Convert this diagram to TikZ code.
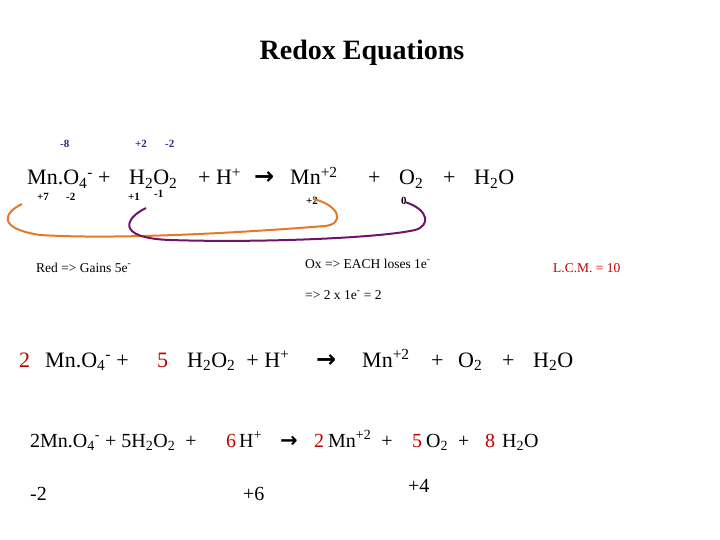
\documentclass[tikz,border=0pt]{standalone}
\usepackage{fontspec}
\setmainfont{Liberation Serif}
\newfontfamily\arrowfont{DejaVu Sans}
\begin{document}
\begin{tikzpicture}[x=1pt,y=-1pt,
  big/.style={anchor=base west,inner sep=0pt,font=\fontsize{22}{24}\selectfont},
  mid/.style={anchor=base west,inner sep=0pt,font=\fontsize{20}{22}\selectfont},
  arr/.style={anchor=base west,inner sep=0pt,font=\fontsize{24}{26}\selectfont\arrowfont\bfseries},
  ox/.style={anchor=base west,inner sep=0pt,font=\fontsize{11}{12}\selectfont\bfseries},
  note/.style={anchor=base west,inner sep=0pt,font=\fontsize{13.5}{14}\selectfont},
  rd/.style={text={rgb,255:red,192;green,0;blue,0}}]
\useasboundingbox (0,0) rectangle (720,540);
\definecolor{oxblue}{RGB}{40,40,120}
\definecolor{corange}{RGB}{230,120,40}
\definecolor{cpurple}{RGB}{110,20,110}
\node[anchor=base,inner sep=0pt,font=\fontsize{28}{30}\selectfont\bfseries] (title) at (362,60) {Redox Equations};
% oxidation numbers above
\node[ox,text=oxblue] (a1) at (60,148) {-8};
\node[ox,text=oxblue] (a2) at (135,148) {+2};
\node[ox,text=oxblue] (a3) at (165,148) {-2};
% line 1
\node[big] (l1a) at (27,185) {Mn.O\textsubscript{4}\textsuperscript{-}};
\node[big] (l1b) at (98,185) {+};
\node[big] (l1c) at (129,185) {H\textsubscript{2}O\textsubscript{2}};
\node[big] (l1d) at (198,185) {+ H\textsuperscript{+}};
\node[arr] (l1e) at (254,185) {→};
\node[big] (l1f) at (290,185) {Mn\textsuperscript{+2}};
\node[big] (l1g) at (368,185) {+};
\node[big] (l1h) at (399,185) {O\textsubscript{2}};
\node[big] (l1i) at (443,185) {+};
\node[big] (l1j) at (474,185) {H\textsubscript{2}O};
% oxidation numbers below
\node[ox] (b1) at (37,201) {+7};
\node[ox] (b2) at (66,201) {-2};
\node[ox] (b3) at (128,201) {+1};
\node[ox] (b4) at (154,197) {-1};
\node[ox] (b5) at (306,205) {+2};
\node[ox] (b6) at (401,205) {0};
% curves
\draw[corange,line width=2pt] (22,204) .. controls (5,212) and (-5,228) .. (40,235) .. controls (120,240) and (250,232) .. (325,226) .. controls (345,224) and (340,205) .. (313,199);
\draw[cpurple,line width=2pt] (146,208) .. controls (125,218) and (115,238) .. (170,240) .. controls (260,243) and (380,238) .. (415,230) .. controls (430,226) and (430,210) .. (405,202);
% notes
\node[note] (n1) at (36,272) {Red => Gains 5e\textsuperscript{-}};
\node[note] (n2) at (305,268) {Ox => EACH loses 1e\textsuperscript{-}};
\node[note,rd] (n3) at (553,272) {L.C.M. = 10};
\node[note] (n4) at (305,299) {=> 2 x 1e\textsuperscript{-} = 2};
% line 2
\node[big,rd] (c1) at (19,367) {2};
\node[big] (c2) at (45,367) {Mn.O\textsubscript{4}\textsuperscript{-} +};
\node[big,rd] (c3) at (157,367) {5};
\node[big] (c4) at (187,367) {H\textsubscript{2}O\textsubscript{2}\ \ + H\textsuperscript{+}};
\node[arr] (c5) at (316,367) {→};
\node[big] (c6) at (362,367) {Mn\textsuperscript{+2}};
\node[big] (c7) at (431,367) {+};
\node[big] (c8) at (458,367) {O\textsubscript{2}};
\node[big] (c9) at (502,367) {+};
\node[big] (c10) at (533,367) {H\textsubscript{2}O};
% line 3
\node[mid] (d1) at (30,447) {2Mn.O\textsubscript{4}\textsuperscript{-}\ + 5H\textsubscript{2}O\textsubscript{2}\ \ +};
\node[mid,rd] (d2) at (226,447) {6};
\node[mid] (d3) at (239,447) {H\textsuperscript{+}};
\node[arr,font=\fontsize{21}{22}\selectfont\arrowfont\bfseries] (d4) at (280,447) {→};
\node[mid,rd] (d5) at (314,447) {2};
\node[mid] (d6) at (328,447) {Mn\textsuperscript{+2}\ \ +};
\node[mid,rd] (d7) at (412,447) {5};
\node[mid] (d8) at (426,447) {O\textsubscript{2}\ \ +};
\node[mid,rd] (d9) at (485,447) {8};
\node[mid] (d10) at (502,447) {H\textsubscript{2}O};
\node[mid] (e1) at (30,500) {-2};
\node[mid] (e2) at (243,500) {+6};
\node[mid] (e3) at (408,492) {+4};
\end{tikzpicture}
\end{document}
